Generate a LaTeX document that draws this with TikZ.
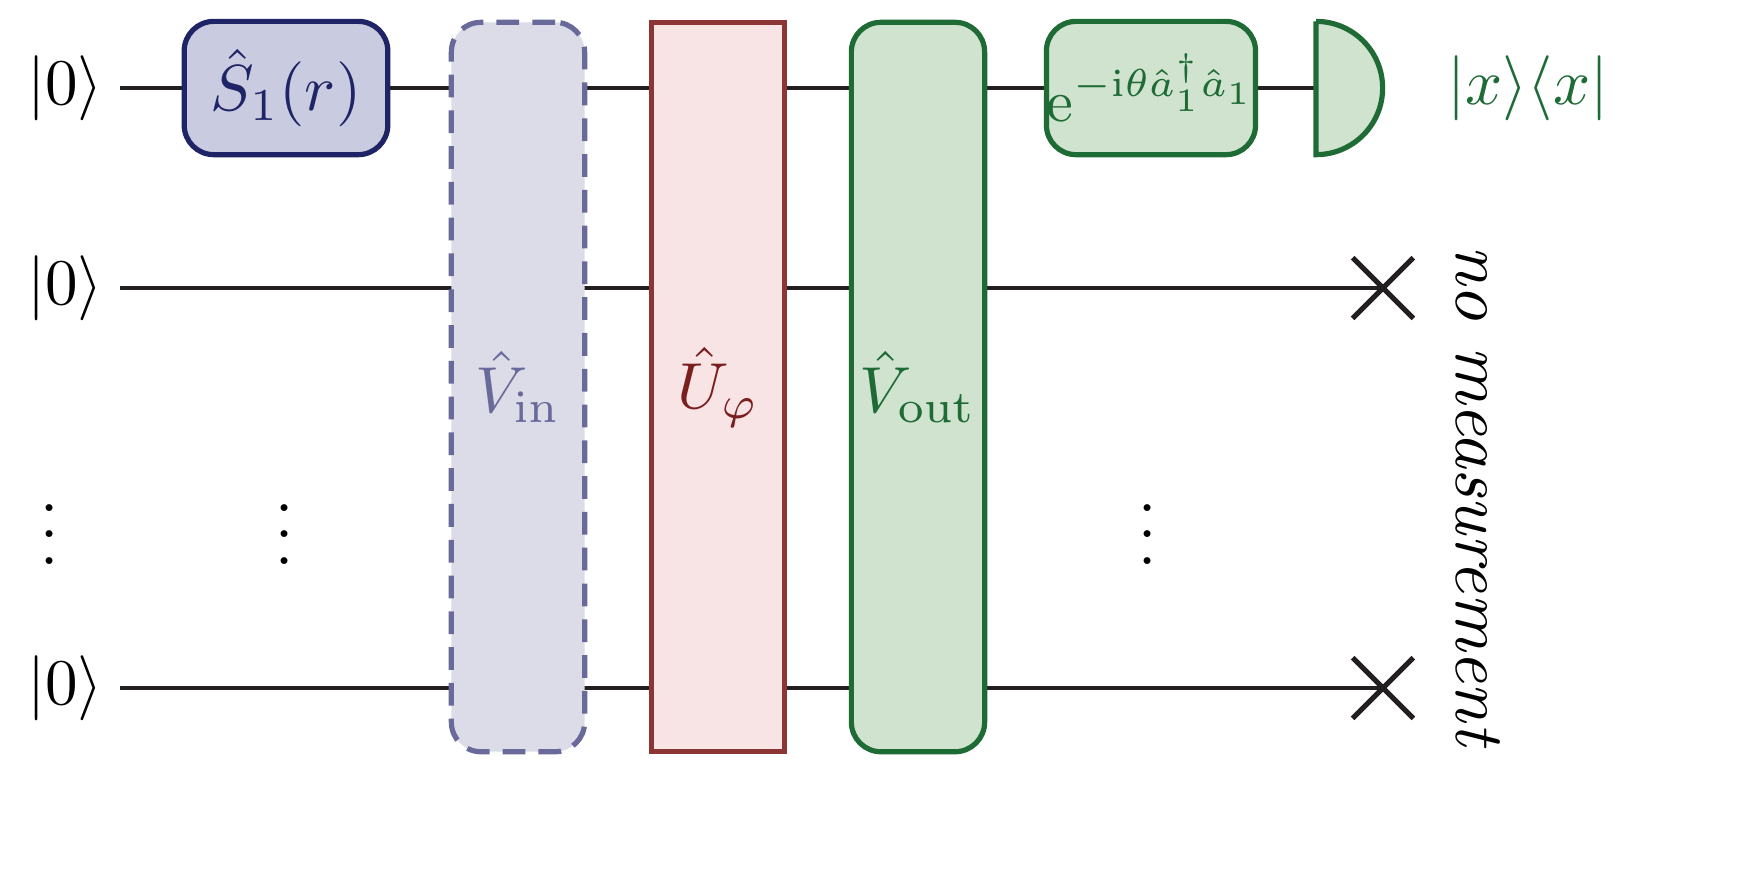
\documentclass[tikz,border=0pt]{standalone}
\usepackage{amsmath}
\usetikzlibrary{shapes,shapes.misc,positioning}
\definecolor{navy}{HTML}{1F2466}
\definecolor{navyfill}{HTML}{C9CBE0}
\definecolor{lilac}{HTML}{6A6A9A}
\definecolor{lilacfill}{HTML}{DCDCE9}
\definecolor{wine}{HTML}{8B3535}
\definecolor{winetext}{HTML}{7A1F1F}
\definecolor{rosefill}{HTML}{F8E4E4}
\definecolor{leaf}{HTML}{1E6B35}
\definecolor{leaffill}{HTML}{CFE3CF}
\definecolor{wirecol}{HTML}{231F20}
\tikzstyle{wire} = [draw, line width=0.75pt, color=wirecol]
\tikzstyle{gate} = [draw, line width=0.8pt, rounded corners=1.6mm, minimum width=1.1cm, minimum height=0.72cm, inner sep=0pt]
\tikzstyle{tallgate} = [draw, line width=0.8pt, rounded corners=1.6mm, minimum width=0.72cm, minimum height=3.94cm, inner sep=0pt]
\tikzstyle{ket} = [inner sep=0pt]
\tikzstyle{discard} = [cross out, draw, line width=0.8pt, color=wirecol, minimum size=0.3cm, inner sep=0pt]
\begin{document}
\begin{tikzpicture}[x=0.0054cm, y=-0.0054cm]
  \useasboundingbox (0,0) rectangle (1763,876);

  % inputs
  \node[ket] (in1) at (65,88) {$|0\rangle$};
  \node[ket] (in2) at (65,288) {$|0\rangle$};
  \node[ket] (in3) at (65,688) {$|0\rangle$};
  \node[ket] (dotsa) at (50,515) {$\vdots$};
  \node[ket] (dotsb) at (285,515) {$\vdots$};
  \node[ket] (dotsc) at (1148,515) {$\vdots$};
  \coordinate (start1) at (120,88);
  \coordinate (start2) at (120,288);
  \coordinate (start3) at (120,688);

  % outputs
  \coordinate (det) at (1316,88);
  \node[discard] (cross2) at (1383,288) {};
  \node[discard] (cross3) at (1383,688) {};

  \path[wire] (start1) -- (det);
  \path[wire] (start2) -- (cross2.center);
  \path[wire] (start3) -- (cross3.center);

  % gates
  \node[gate, draw=navy, fill=navyfill, text=navy] (squeeze) at (286,88) {$\hat{S}_1(r)$};
  \node[tallgate, draw=lilac, fill=lilacfill, text=lilac, dash pattern=on 3.5pt off 2pt] (vin) at (518,387) {$\hat{V}_{\mathrm{in}}$};
  \node[tallgate, draw=wine, fill=rosefill, text=winetext, rounded corners=0pt] (uphi) at (718,387) {$\hat{U}_{\varphi}$};
  \node[tallgate, draw=leaf, fill=leaffill, text=leaf] (vout) at (918,387) {$\hat{V}_{\mathrm{out}}$};
  \node[gate, draw=leaf, fill=leaffill, text=leaf, font=\small] (rotate) at (1151,88) {$\mathrm{e}^{-\mathrm{i}\theta\hat{a}_1^\dagger\hat{a}_1}$};

  % homodyne detector
  \path[draw, line width=0.8pt, color=leaf, fill=leaffill] (det) ++(0,0.36cm) -- ++(0,-0.72cm) arc (-90:90:0.36cm) -- cycle;
  \node[ket, text=leaf] (proj) at (1528,88) {$|x\rangle\langle x|$};
  \node[ket, rotate=-90, scale=1.08] (nomeas) at (1478,497) {\textit{no measurement}};

\end{tikzpicture}
\end{document}
